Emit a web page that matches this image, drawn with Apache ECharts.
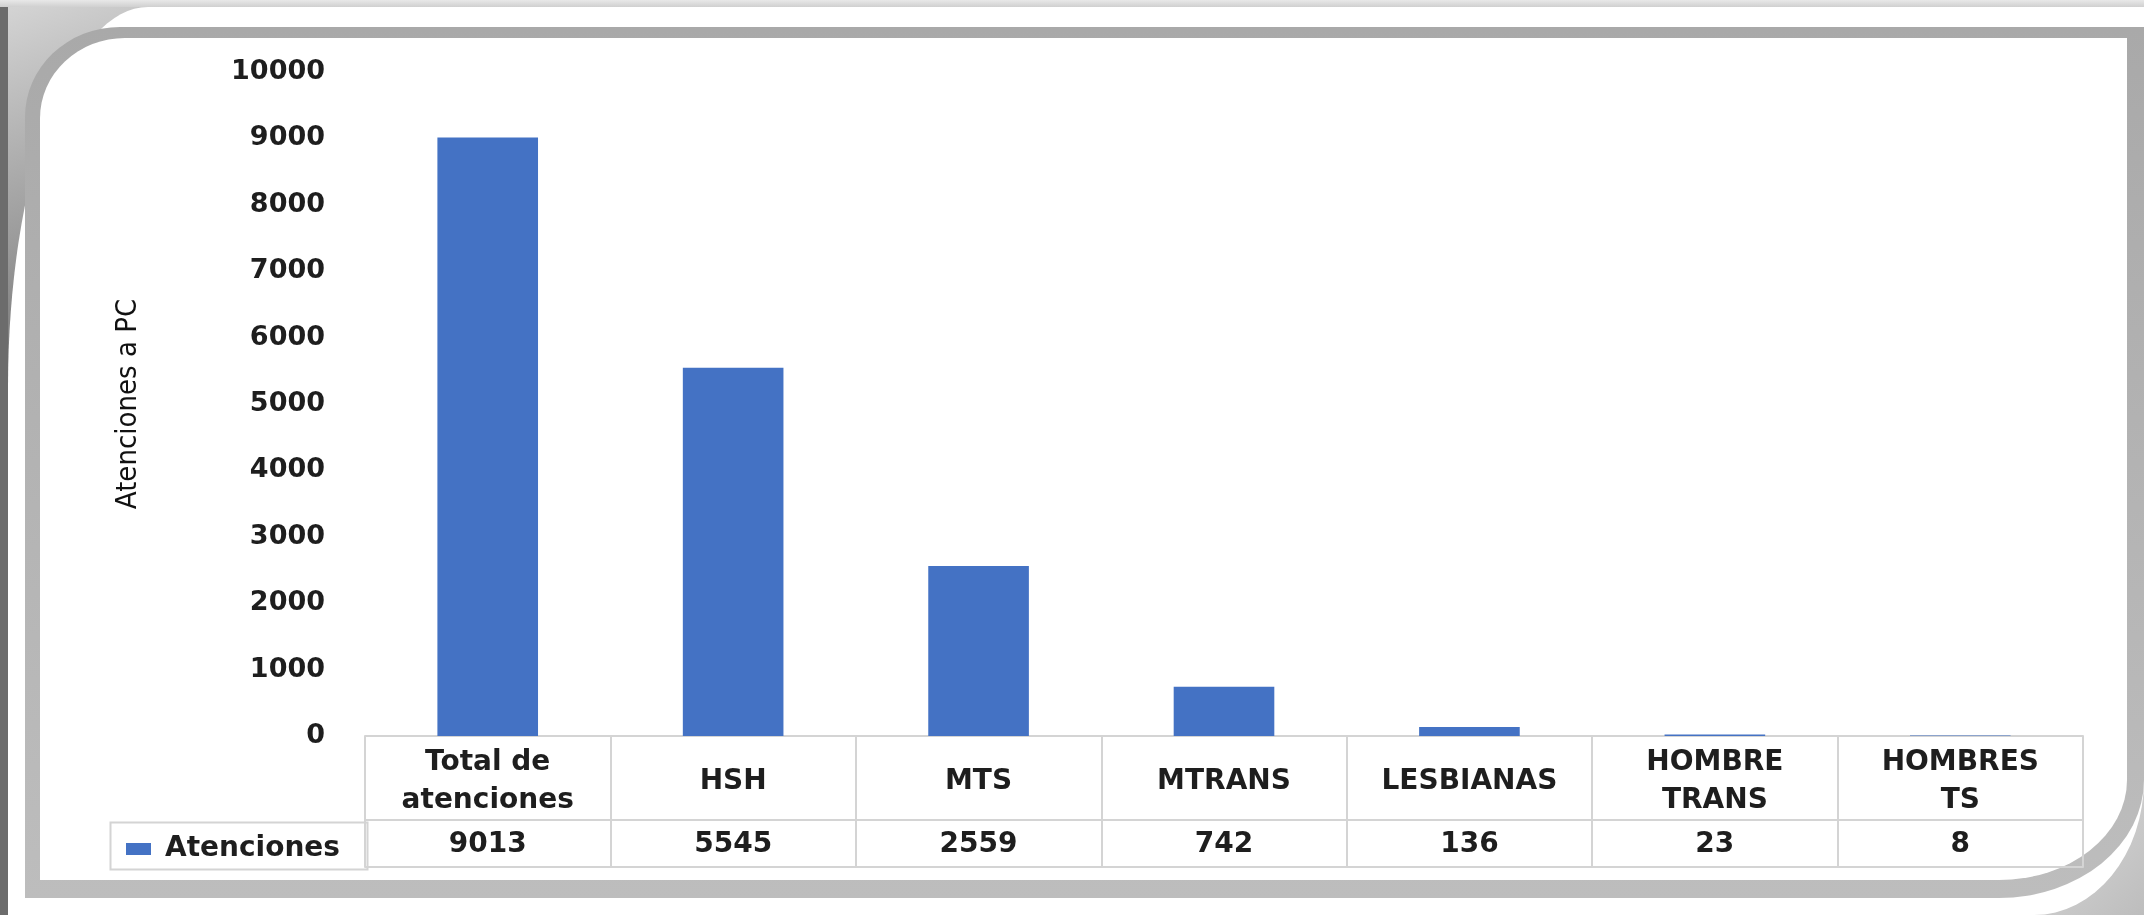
<!DOCTYPE html>
<html>
<head>
<meta charset="utf-8">
<title>Atenciones a PC</title>
<script src="https://cdn.jsdelivr.net/npm/echarts@6/dist/echarts.min.js"></script>
<style>
  html, body { margin: 0; padding: 0; background: #fff; }
  body { width: 2144px; height: 915px; position: relative; overflow: hidden; }
  .abs { position: absolute; }
  /* decorative slide frame */
  #cornerTL { left: 0; top: 0; width: 260px; height: 460px;
              background: linear-gradient(160deg, #d6d6d6 0%, #9a9a9a 45%, #6c6c6c 75%); }
  #edgeL { left: 0; top: 0; width: 8px; height: 915px; background: #6c6c6c; }
  #edgeT { left: 0; top: 0; width: 2144px; height: 7px; background: linear-gradient(#e8e8e8, #d0d0d0); }
  #cornerBR { right: 0; bottom: 0; width: 220px; height: 220px;
              background: linear-gradient(315deg, #bdbdbd 0%, #dcdcdc 55%, #f4f4f4 100%); }
  #mat { left: 8px; top: 7px; width: 2136px; height: 908px; background: #fff;
         border-top-left-radius: 140px 380px; border-bottom-right-radius: 110px 135px; }
  #photo { left: 25px; top: 27px; width: 2119px; height: 871px;
           background: linear-gradient(#a9a9a9, #bdbdbd);
           border-top-left-radius: 95px 90px; border-bottom-right-radius: 145px 118px; }
  #panel { left: 40px; top: 38px; width: 2087px; height: 842px; background: #fff;
           border-top-left-radius: 85px 80px; border-bottom-right-radius: 128px 100px; }
  #chart { left: 0; top: 0; width: 2144px; height: 915px; }
</style>
</head>
<body>
<div id="cornerTL" class="abs"></div>
<div id="edgeL" class="abs"></div>
<div id="edgeT" class="abs"></div>
<div id="cornerBR" class="abs"></div>
<div id="mat" class="abs"></div>
<div id="photo" class="abs"></div>
<div id="panel" class="abs"></div>
<div id="chart" class="abs"></div>
<script>
// --- data ---
var categories = ['Total de\natenciones', 'HSH', 'MTS', 'MTRANS', 'LESBIANAS', 'HOMBRE\nTRANS', 'HOMBRES\nTS'];
var atenciones = [9013, 5545, 2559, 742, 136, 23, 8];
var seriesName = 'Atenciones';
var yTitle = 'Atenciones a PC';

var FONT = "'DejaVu Sans', sans-serif";
var TXT = '#1e1e1e';
var LINE = '#d4d4d4';

var myChart = echarts.init(document.getElementById('chart'), null, {renderer: 'canvas'});

var option = {
    backgroundColor: 'transparent',
    animation: false,
    grid: { left: 365, right: 61, top: 72, bottom: 179, containLabel: false },
    legend: {
        data: [seriesName],
        left: 121,
        top: 830,
        icon: 'rect',
        itemWidth: 25,
        itemHeight: 12,
        textStyle: { fontFamily: FONT, fontWeight: 'bold', fontSize: 28, color: TXT, padding: [0, 0, 0, 9] }
    },
    xAxis: [
        {   // header row of the data table
            type: 'category',
            data: categories,
            axisLine: { show: true, lineStyle: { color: LINE, width: 2 } },
            axisTick: { show: true, length: 84, interval: 0, lineStyle: { color: LINE, width: 2 } },
            axisLabel: {
                interval: 0, margin: 46, verticalAlign: 'middle',
                fontFamily: FONT, fontWeight: 'bold', fontSize: 28, lineHeight: 38, color: TXT
            },
            splitLine: { show: false }
        },
        {   // value row
            type: 'category',
            position: 'bottom',
            offset: 84,
            data: categories,
            axisLine: { show: true, lineStyle: { color: LINE, width: 2 } },
            axisTick: { show: true, length: 47, interval: 0, lineStyle: { color: LINE, width: 2 } },
            axisLabel: {
                interval: 0, margin: 25, verticalAlign: 'middle',
                fontFamily: FONT, fontWeight: 'bold', fontSize: 28, color: TXT,
                formatter: function(v, i) { return String(atenciones[i]); }
            }
        },
        {   // bottom border of the table
            type: 'category',
            position: 'bottom',
            offset: 131,
            data: categories,
            axisLine: { show: true, lineStyle: { color: LINE, width: 2 } },
            axisTick: { show: false },
            axisLabel: { show: false }
        }
    ],
    yAxis: {
        type: 'value',
        min: 0,
        max: 10000,
        interval: 1000,
        name: yTitle,
        nameLocation: 'middle',
        nameGap: 222,
        nameRotate: 90,
        nameTextStyle: { fontFamily: "'DejaVu Sans Condensed', 'DejaVu Sans', sans-serif", fontSize: 29, color: '#111' },
        axisLine: { show: false },
        axisTick: { show: false },
        splitLine: { show: false },
        axisLabel: {
            margin: 40, fontFamily: FONT, fontWeight: 'bold', fontSize: 27, color: TXT,
            formatter: function(v) { return String(v); }
        }
    },
    graphic: [
        {   // legend key cell of the data table
            type: 'rect',
            left: 108,
            top: 820,
            shape: { width: 257, height: 47 },
            style: { fill: 'none', stroke: LINE, lineWidth: 2 },
            z: 1
        }
    ],
    series: [
        {
            name: seriesName,
            type: 'bar',
            barWidth: '41%',
            itemStyle: { color: '#4472C4' },
            data: atenciones
        }
    ]
};

myChart.setOption(option);
</script>
</body>
</html>
